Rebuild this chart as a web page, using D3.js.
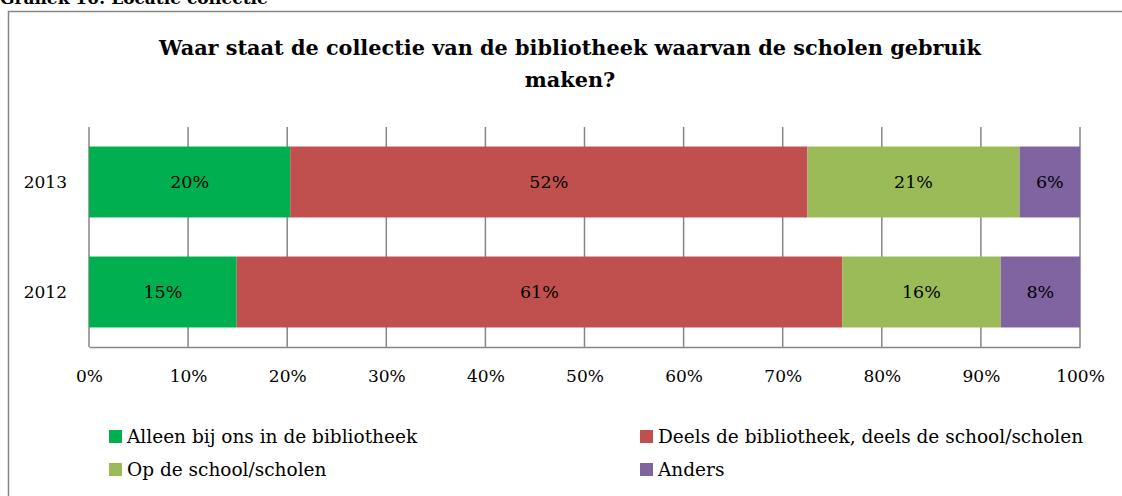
<!DOCTYPE html>
<html>
<head>
<meta charset="utf-8">
<script src="https://cdn.jsdelivr.net/npm/d3@7"></script>
<style>
  html, body { margin: 0; padding: 0; background: #fff; }
  svg { display: block; }
  text { font-family: "DejaVu Serif", "Liberation Serif", serif; fill: #000; }
</style>
</head>
<body>
<svg id="chart" width="1122" height="496"></svg>
<script>
// ---- data ----
const years = ["2013", "2012"];
const seriesNames = [
  "Alleen bij ons in de bibliotheek",
  "Deels de bibliotheek, deels de school/scholen",
  "Op de school/scholen",
  "Anders"
];
const seriesColors = ["#00B050", "#C0504D", "#9BBB59", "#8064A2"];
const values2013 = [20.3, 52.2, 21.4, 6.1];
const values2012 = [14.9, 61.1, 16.0, 8.0];
const tickValues = [0, 10, 20, 30, 40, 50, 60, 70, 80, 90, 100];
const chartTitle = ["Waar staat de collectie van de bibliotheek waarvan de scholen gebruik", "maken?"];
const docTitle = "Grafiek 10: Locatie collectie";

const valuesByYear = { "2013": values2013, "2012": values2012 };

const svg = d3.select("#chart");

// document caption (cut off at top, as in the source page)
svg.append("text").attr("x", 0).attr("y", 4)
  .attr("font-size", 17).attr("font-weight", "bold").text(docTitle);

// chart border
svg.append("path")
  .attr("d", "M8.5,496 L8.5,11.5 L1130,11.5")
  .attr("fill", "none").attr("stroke", "#868686").attr("stroke-width", 1.5);

// title
const title = svg.append("text").attr("text-anchor", "middle")
  .attr("font-size", 20.8).attr("font-weight", "bold");
chartTitle.forEach((t, i) => {
  title.append("tspan").attr("x", 570).attr("y", 55 + i * 32).text(t);
});

const x = d3.scaleLinear().domain([0, 100]).range([89, 1080]);
const y = d3.scaleBand().domain(years).range([127, 347])
  .paddingInner(0.355).paddingOuter(0.1775);

// gridlines
svg.append("g").selectAll("line").data(tickValues).join("line")
  .attr("x1", d => x(d)).attr("x2", d => x(d))
  .attr("y1", 127).attr("y2", 347)
  .attr("stroke", "#868686").attr("stroke-width", 1.5);

// bottom axis
const xAxis = svg.append("g").attr("transform", "translate(0,347)")
  .call(d3.axisBottom(x).tickValues(tickValues).tickSize(0).tickPadding(23)
    .tickFormat(d => d + "%"));
xAxis.select(".domain").attr("stroke", "#868686").attr("stroke-width", 1.5);
xAxis.selectAll("text").attr("font-size", 17).attr("font-family", "DejaVu Serif");

// y labels
svg.append("g").selectAll("text").data(years).join("text")
  .attr("x", 67).attr("y", d => y(d) + y.bandwidth() / 2)
  .attr("dy", "0.35em").attr("text-anchor", "end").attr("font-size", 17)
  .text(d => d);

// stacked bars
const rows = years.map(yr => {
  const obj = { year: yr };
  seriesNames.forEach((s, i) => obj[s] = valuesByYear[yr][i]);
  return obj;
});
const stack = d3.stack().keys(seriesNames)(rows);

const layers = svg.append("g").selectAll("g").data(stack).join("g")
  .attr("fill", (d, i) => seriesColors[i]);
layers.selectAll("rect").data(d => d).join("rect")
  .attr("x", d => x(d[0])).attr("width", d => x(d[1]) - x(d[0]))
  .attr("y", d => y(d.data.year)).attr("height", y.bandwidth());
layers.selectAll("text").data(d => d).join("text")
  .attr("x", d => (x(d[0]) + x(d[1])) / 2)
  .attr("y", d => y(d.data.year) + y.bandwidth() / 2)
  .attr("dy", "0.35em").attr("text-anchor", "middle").attr("font-size", 17.5)
  .attr("fill", "#000")
  .text(d => Math.round(d[1] - d[0]) + "%");

// legend
const legendPos = [[109, 436.5], [640, 436.5], [109, 469.5], [640, 469.5]];
const legend = svg.append("g").selectAll("g").data(seriesNames).join("g")
  .attr("transform", (d, i) => `translate(${legendPos[i][0]},${legendPos[i][1]})`);
legend.append("rect").attr("x", 0).attr("y", -6.5).attr("width", 13).attr("height", 13)
  .attr("fill", (d, i) => seriesColors[i]);
legend.append("text").attr("x", 18).attr("dy", "0.35em").attr("font-size", 18.5)
  .text(d => d);
</script>
</body>
</html>
